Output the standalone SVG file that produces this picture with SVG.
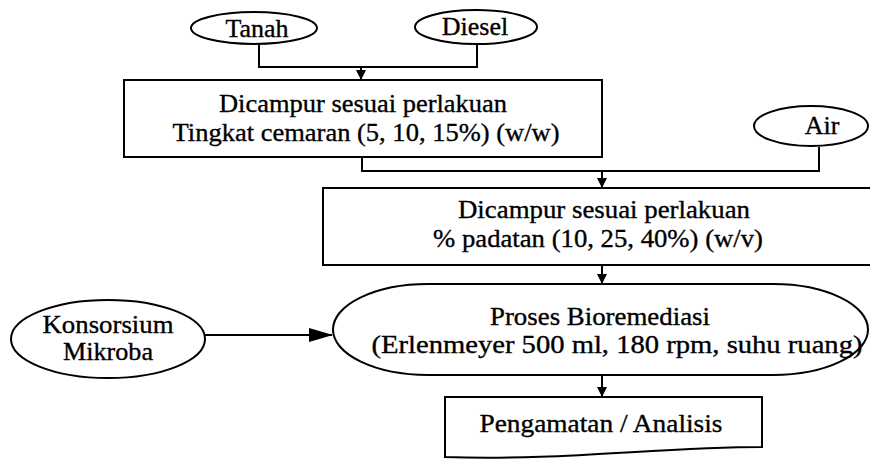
<svg xmlns="http://www.w3.org/2000/svg" width="870" height="459" viewBox="0 0 870 459">
<defs>
<style>
.s{fill:none;stroke:#000;stroke-width:2}
.t{font-family:"Liberation Serif","Times New Roman",serif;font-size:26px;fill:#000;stroke:#000;stroke-width:0.35;text-anchor:middle}
.c{fill:none;stroke:#000;stroke-width:2}
</style>
<marker id="ah" markerWidth="10" markerHeight="10" refX="9" refY="5" orient="auto" markerUnits="userSpaceOnUse">
<path d="M0,0 L10,5 L0,10 Z" fill="#000"/>
</marker>
<marker id="ahb" markerWidth="24" markerHeight="16" refX="23" refY="8" orient="auto" markerUnits="userSpaceOnUse">
<path d="M0,1 L24,8 L0,15 Z" fill="#000"/>
</marker>
</defs>
<rect width="870" height="459" fill="#fff"/>
<g id="connectors">
<path class="c" d="M259,44 V67 H477 V44"/>
<path class="c" d="M361,67 V79" marker-end="url(#ah)"/>
<path class="c" d="M362,157 V171 H819 V147"/>
<path class="c" d="M602,171 V187" marker-end="url(#ah)"/>
<path class="c" d="M602,265 V283" marker-end="url(#ah)"/>
<path class="c" d="M205,335 H332" marker-end="url(#ahb)"/>
<path class="c" d="M602,375 V396" marker-end="url(#ah)"/>
</g>
<g id="tanah">
<ellipse class="s" cx="254" cy="28" rx="63" ry="16"/>
<text class="t" x="257" y="37">Tanah</text>
</g>
<g id="diesel">
<ellipse class="s" cx="476" cy="27" rx="61" ry="17"/>
<text class="t" x="475" y="35">Diesel</text>
</g>
<g id="campur1">
<rect class="s" x="124" y="80" width="478" height="77"/>
<text class="t" x="363" y="112" textLength="288" lengthAdjust="spacingAndGlyphs">Dicampur sesuai perlakuan</text>
<text class="t" x="366" y="141" textLength="387" lengthAdjust="spacingAndGlyphs">Tingkat cemaran (5, 10, 15%) (w/w)</text>
</g>
<g id="air">
<ellipse class="s" cx="811" cy="126" rx="57" ry="20"/>
<text class="t" x="822" y="134">Air</text>
</g>
<g id="campur2">
<rect class="s" x="323" y="188" width="565" height="77"/>
<text class="t" x="604" y="218" textLength="292" lengthAdjust="spacingAndGlyphs">Dicampur sesuai perlakuan</text>
<text class="t" x="598" y="247" textLength="330" lengthAdjust="spacingAndGlyphs">% padatan (10, 25, 40%) (w/v)</text>
</g>
<g id="konsorsium">
<ellipse class="s" cx="108" cy="339" rx="97" ry="39"/>
<text class="t" x="108" y="333" textLength="131" lengthAdjust="spacingAndGlyphs">Konsorsium</text>
<text class="t" x="108" y="360" textLength="90" lengthAdjust="spacingAndGlyphs">Mikroba</text>
</g>
<g id="proses">
<rect class="s" x="333" y="284" width="535" height="91" rx="95" ry="45.5"/>
<text class="t" x="600" y="325" textLength="220" lengthAdjust="spacingAndGlyphs">Proses Bioremediasi</text>
<text class="t" x="617" y="353" textLength="491" lengthAdjust="spacingAndGlyphs">(Erlenmeyer 500 ml, 180 rpm, suhu ruang)</text>
</g>
<g id="pengamatan">
<path class="s" d="M445,397 H762 V447 C 660,447 560,461 445,457 Z"/>
<text class="t" x="601" y="432" textLength="243" lengthAdjust="spacingAndGlyphs">Pengamatan / Analisis</text>
</g>
</svg>
